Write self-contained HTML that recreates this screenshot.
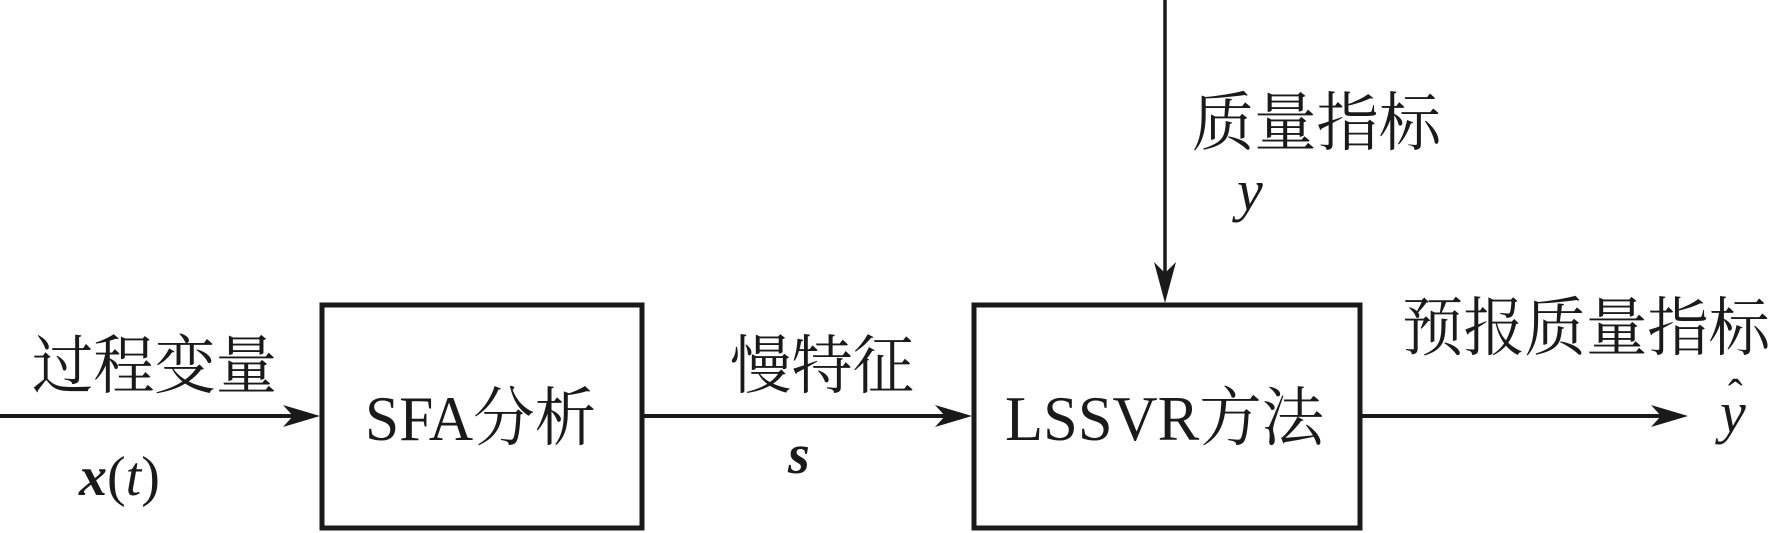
<!DOCTYPE html>
<html><head><meta charset="utf-8"><style>
html,body{margin:0;padding:0;background:#fff;}
svg{display:block}
text{font-family:"Liberation Serif","Noto Serif CJK SC",serif;fill:#1a1a1a}
</style></head><body>
<svg width="1774" height="533" viewBox="0 0 1774 533" xmlns="http://www.w3.org/2000/svg">
<g stroke="#1a1a1a" fill="none">
<rect x="322" y="305" width="320" height="223" stroke-width="5"/>
<rect x="974" y="305" width="386" height="223" stroke-width="5"/>
<line x1="0" y1="416" x2="300" y2="416" stroke-width="4"/>
<line x1="644" y1="416" x2="950" y2="416" stroke-width="4"/>
<line x1="1362" y1="416" x2="1665" y2="416" stroke-width="4"/>
<line x1="1165" y1="0" x2="1165" y2="280" stroke-width="3.5"/>
</g>
<g fill="#1a1a1a">
<polygon points="320,416 283,405 293,416 283,427"/>
<polygon points="972,416 935,405 945,416 935,427"/>
<polygon points="1688,416 1651,405 1661,416 1651,427"/>
<polygon points="1165,303 1154,262 1165,273 1176,262"/>
</g>
<text x="32" y="388" font-size="64" textLength="245" lengthAdjust="spacingAndGlyphs">过程变量</text>
<text x="730" y="388" font-size="64" textLength="184" lengthAdjust="spacingAndGlyphs">慢特征</text>
<text x="365" y="440" font-size="64" textLength="231" lengthAdjust="spacingAndGlyphs">SFA分析</text>
<text x="1005" y="440" font-size="64" textLength="319" lengthAdjust="spacingAndGlyphs">LSSVR方法</text>
<text x="1192" y="145" font-size="64" textLength="249" lengthAdjust="spacingAndGlyphs">质量指标</text>
<text x="1402" y="350" font-size="64" textLength="368" lengthAdjust="spacingAndGlyphs">预报质量指标</text>
<text x="79" y="495" font-size="56"><tspan font-weight="bold" font-style="italic">x</tspan>(<tspan font-style="italic">t</tspan>)</text>
<text x="788" y="473" font-size="56" font-style="italic" font-weight="bold">s</text>
<text x="1237" y="210" font-size="58" font-style="italic">y</text>
<text x="1720" y="432" font-size="58" font-style="italic">y</text>
<text x="1728" y="410" font-size="44">ˆ</text>
</svg>
</body></html>
